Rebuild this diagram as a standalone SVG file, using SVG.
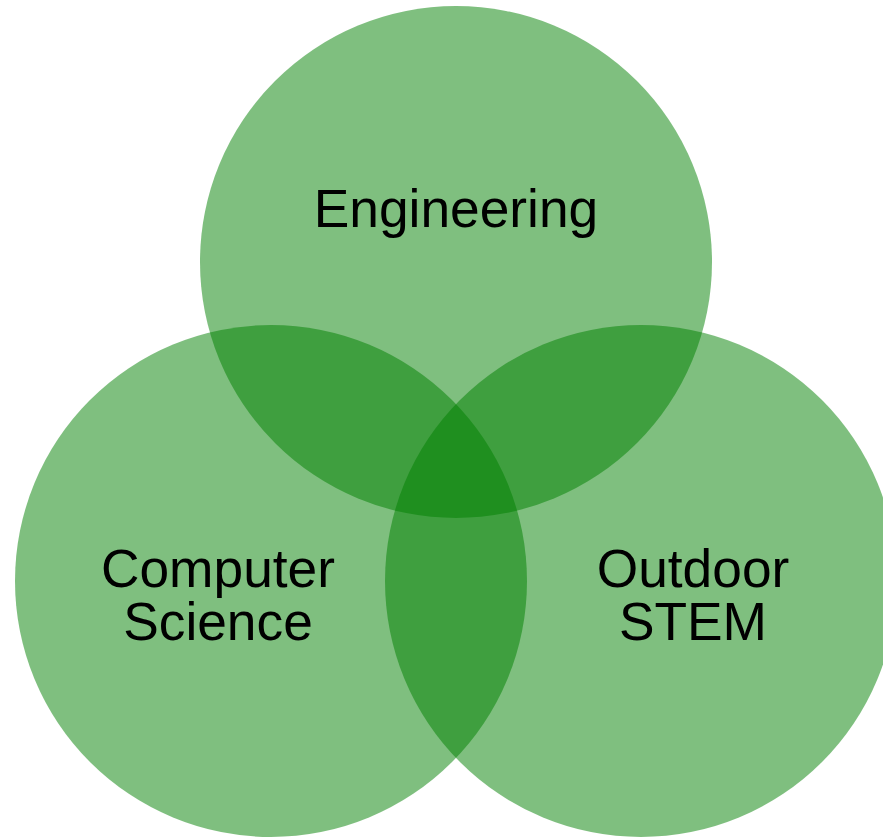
<svg xmlns="http://www.w3.org/2000/svg" width="883" height="837" viewBox="0 0 883 837">
  <style>
    .set { fill: #008000; fill-opacity: 0.5; }
    .label { font-family: "Liberation Sans", Arial, sans-serif; font-size: 53.3px; fill: #000000; text-anchor: middle; }
  </style>
  <rect width="883" height="837" fill="#ffffff"/>
  <g id="engineering">
    <circle class="set" cx="456" cy="262" r="256"/>
  </g>
  <g id="computer-science">
    <circle class="set" cx="271" cy="581" r="256"/>
  </g>
  <g id="outdoor-stem">
    <circle class="set" cx="641" cy="581" r="256"/>
  </g>
  <g id="labels">
    <text class="label" x="456" y="226.5">Engineering</text>
    <text class="label" x="218" y="587">Computer</text>
    <text class="label" x="218" y="640">Science</text>
    <text class="label" x="693" y="587">Outdoor</text>
    <text class="label" x="693" y="640">STEM</text>
  </g>
  <g id="connectors"></g>
</svg>
